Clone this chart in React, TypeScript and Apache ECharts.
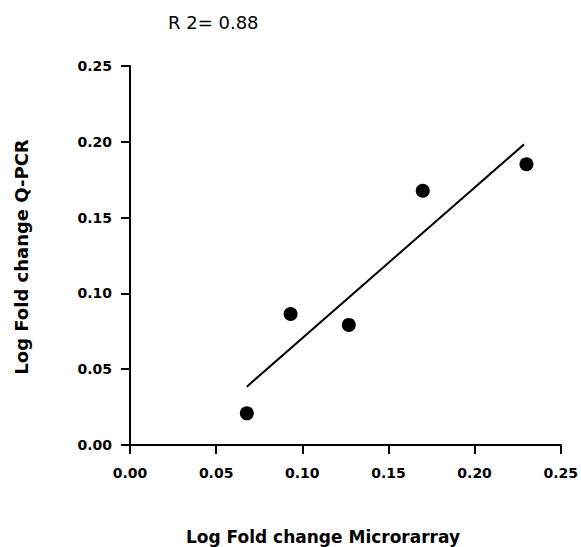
import React, { useEffect, useRef } from "react";
import * as echarts from "echarts";

const microarray = [0.0678, 0.0932, 0.127, 0.1699, 0.2301];
const qpcr = [0.0209, 0.0864, 0.0792, 0.1677, 0.1852];
const fitX = [0.0678, 0.2287];
const fitY = [0.0385, 0.1983];
const tickValues = [0, 0.05, 0.1, 0.15, 0.2, 0.25];
const titleText = "R 2= 0.88";
const xTitle = "Log Fold change Microrarray";
const yTitle = "Log Fold change Q-PCR";

export default function App() {
  const ref = useRef<HTMLDivElement>(null);
  useEffect(() => {
    if (!ref.current) return;
    const chart = echarts.init(ref.current, undefined, { renderer: "svg" });
    const axisCommon = {
      type: "value" as const,
      min: tickValues[0],
      max: tickValues[tickValues.length - 1],
      interval: 0.05,
      splitLine: { show: false },
      axisLine: { show: true, lineStyle: { color: "#000", width: 2 } },
      axisTick: { show: true, inside: false, length: 9, lineStyle: { color: "#000", width: 2 } },
      axisLabel: {
        color: "#000",
        fontFamily: "DejaVu Sans",
        fontWeight: "bold" as const,
        fontSize: 14,
        margin: 18,
        formatter: (v: number) => v.toFixed(2),
      },
    };
    chart.setOption({
      animation: false,
      backgroundColor: "#fff",
      grid: { left: 130, right: 14.5, top: 66, bottom: 102 },
      xAxis: { ...axisCommon, axisLabel: { ...axisCommon.axisLabel, margin: 21 } },
      yAxis: { ...axisCommon },
      graphic: [
        {
          type: "text",
          x: 168,
          y: 22,
          style: {
            text: titleText,
            fontFamily: "DejaVu Sans",
            fontSize: 18,
            fill: "#000",
            verticalAlign: "middle",
            align: "left",
          },
        },
        {
          type: "text",
          x: 323,
          y: 537,
          style: {
            text: xTitle,
            fontFamily: "DejaVu Sans",
            fontWeight: "bold",
            fontSize: 17,
            fill: "#000",
            align: "center",
            verticalAlign: "middle",
          },
        },
        {
          type: "text",
          x: 21,
          y: 257,
          rotation: Math.PI / 2,
          style: {
            text: yTitle,
            fontFamily: "DejaVu Sans",
            fontWeight: "bold",
            fontSize: 18,
            fill: "#000",
            align: "center",
            verticalAlign: "middle",
          },
        },
      ],
      series: [
        {
          type: "scatter",
          data: microarray.map((x, i) => [x, qpcr[i]]),
          symbol: "circle",
          symbolSize: 14,
          itemStyle: { color: "#000", opacity: 1 },
          z: 3,
        },
        {
          type: "line",
          data: fitX.map((x, i) => [x, fitY[i]]),
          showSymbol: false,
          symbol: "none",
          lineStyle: { color: "#000", width: 2 },
          z: 2,
        },
      ],
    });
    return () => chart.dispose();
  }, []);
  return (
    <div
      ref={ref}
      style={{ position: "absolute", left: 0, top: 0, width: 581, height: 547 }}
    />
  );
}
